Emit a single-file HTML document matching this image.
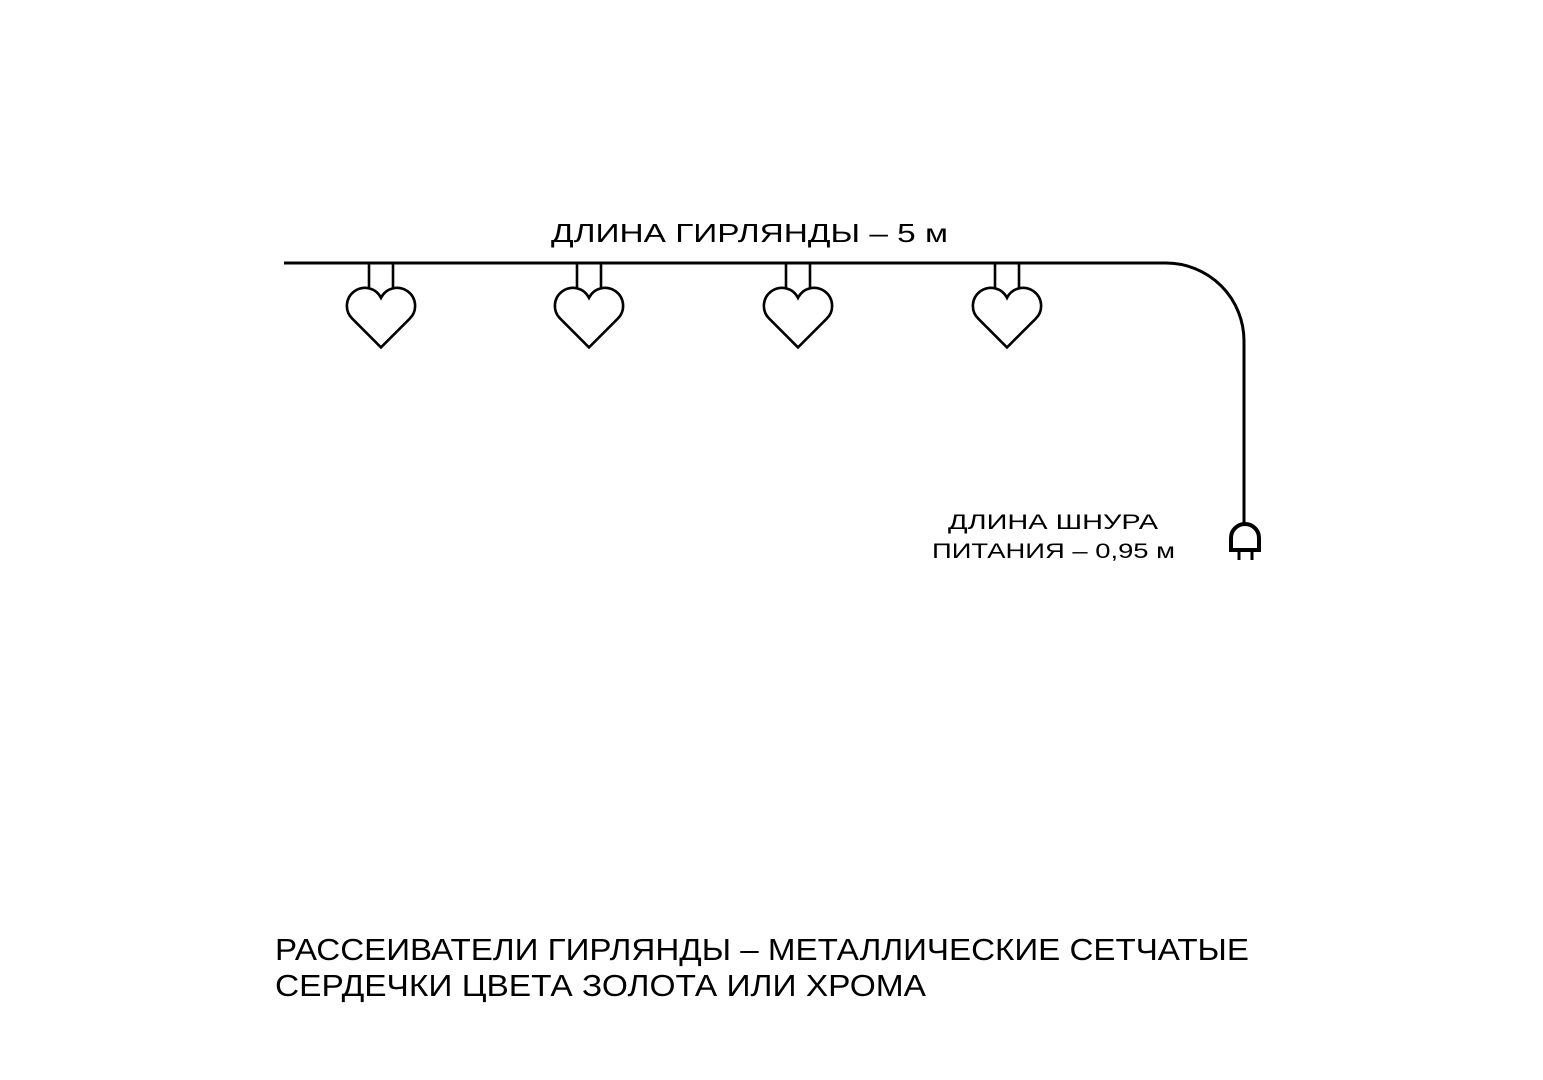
<!DOCTYPE html>
<html><head><meta charset="utf-8"><style>html,body{margin:0;padding:0;background:#fff}svg{display:block}</style></head>
<body>
<svg width="1543" height="1080" viewBox="0 0 1543 1080" xmlns="http://www.w3.org/2000/svg">
<g fill="none" stroke="#000" stroke-width="3">
<path d="M284 263 H1166 A78 78 0 0 1 1244 341 V524"/>
</g>
<g fill="none" stroke="#000" stroke-width="2.6" stroke-linejoin="miter">
<g id="h1">
<path d="M369 263 V289 M393 263 V289"/>
<path d="M381 347.4 L352.3 318.7 A18 18 0 1 1 381 297.8 A18 18 0 1 1 409.7 318.7 Z"/>
</g>
<use href="#h1" x="208"/>
<use href="#h1" x="417"/>
<use href="#h1" x="626"/>
</g>
<path d="M1231 550 V538 A14 14 0 0 1 1259 538 V550 Z" fill="none" stroke="#000" stroke-width="4"/>
<path d="M1239 550 V560 M1252 550 V560" stroke="#000" stroke-width="3"/>
<g font-family="Liberation Sans, sans-serif" fill="#000">
<text x="551" y="242" font-size="26" textLength="397" lengthAdjust="spacingAndGlyphs">ДЛИНА ГИРЛЯНДЫ – 5 м</text>
<text x="948" y="529" font-size="21" textLength="210" lengthAdjust="spacingAndGlyphs">ДЛИНА ШНУРА</text>
<text x="932" y="558" font-size="21" textLength="243" lengthAdjust="spacingAndGlyphs">ПИТАНИЯ – 0,95 м</text>
<text x="275" y="960" font-size="31" textLength="974" lengthAdjust="spacingAndGlyphs">РАССЕИВАТЕЛИ ГИРЛЯНДЫ – МЕТАЛЛИЧЕСКИЕ СЕТЧАТЫЕ</text>
<text x="275" y="996" font-size="31" textLength="651" lengthAdjust="spacingAndGlyphs">СЕРДЕЧКИ ЦВЕТА ЗОЛОТА ИЛИ ХРОМА</text>
</g>
</svg>
</body></html>
